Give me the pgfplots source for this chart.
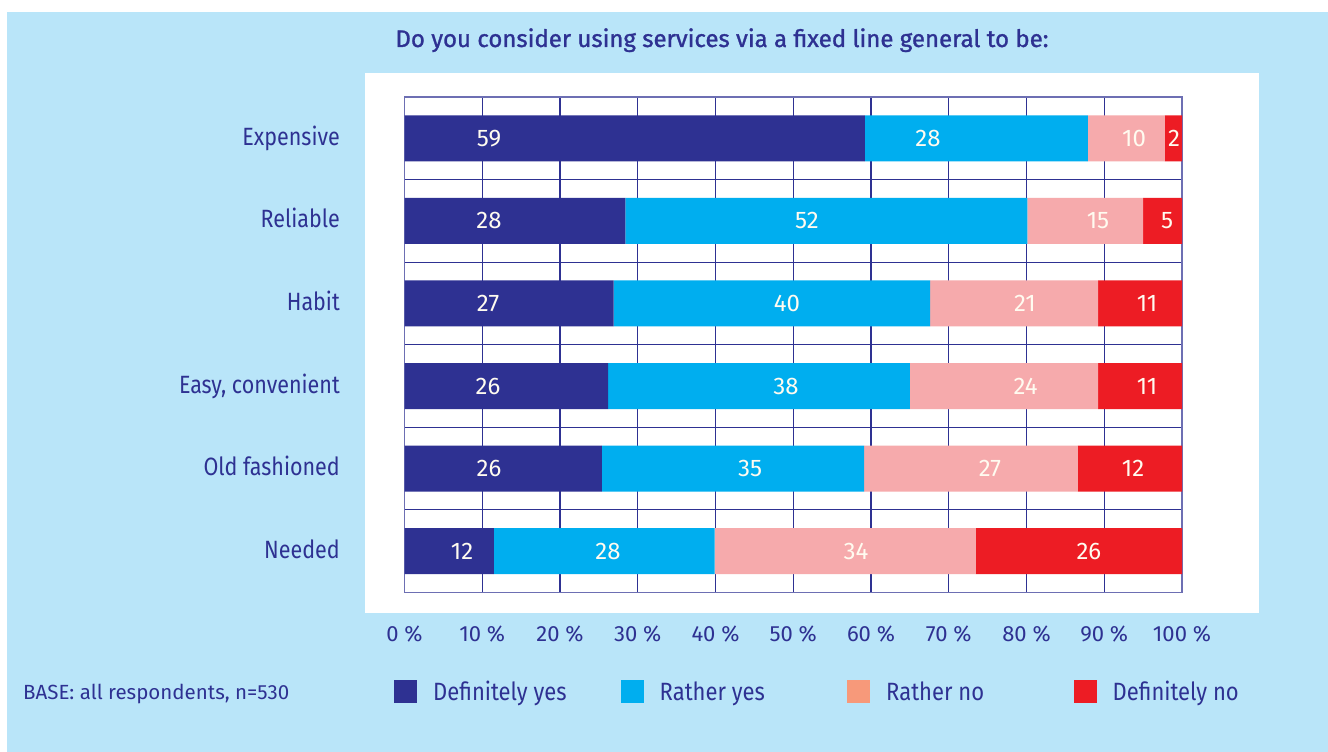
\documentclass[border=0pt]{standalone}
\usepackage{fontspec}
\usepackage{pgfplots}
\usepackage{pgfplotstable}
\pgfplotsset{compat=1.18}
\setmainfont{Fira Sans}[FakeStretch=0.86]
\newfontfamily\titlefont{Fira Sans}[FakeBold=1.2]
\newfontfamily\widefont{Fira Sans}
\newfontfamily\legfont{Fira Sans}[FakeStretch=0.88]
\definecolor{bgblue}{RGB}{185,229,249}
\definecolor{navy}{RGB}{46,49,146}
\definecolor{lblue}{RGB}{0,174,239}
\definecolor{pinkbar}{RGB}{246,170,172}
\definecolor{salmon}{RGB}{247,153,122}
\definecolor{redbar}{RGB}{237,28,36}
\definecolor{lbltext}{RGB}{255,251,240}
\pgfplotstableread{
cat dy ry rn dn
0 59.2 28.7 9.9 2.2
1 28.4 51.7 14.9 5.0
2 26.9 40.7 21.6 10.8
3 26.2 38.8 24.2 10.8
4 25.4 33.7 27.5 13.4
5 11.5 28.4 33.6 26.5
}\data
\pgfplotstableread{
cat lx t
0 10.87 59
0 67.33 28
0 93.83 10
0 98.97 2
1 10.87 28
1 51.77 52
1 89.2 15
1 98.1 5
2 10.74 27
2 49.2 40
2 79.8 21
2 95.5 11
3 10.74 26
3 49.07 38
3 79.9 24
3 95.5 11
4 10.87 26
4 44.44 35
4 75.3 27
4 93.7 12
5 7.4 12
5 26.17 28
5 58.07 34
5 88.03 26
}\labels
\pgfplotsset{frame/.style={
  at={(404.5pt,-97pt)}, anchor=north west,
  scale only axis, width=777.5pt, height=495.5pt,
  xmin=0, xmax=100, ymin=-0.5, ymax=5.5, y dir=reverse}}
\begin{document}
\begin{tikzpicture}
\fill[white] (0pt,0pt) rectangle (1328pt,-752pt);
\fill[bgblue] (7pt,-12pt) rectangle (1328pt,-752pt);
\fill[white] (365pt,-73pt) rectangle (1259pt,-613pt);
\node[anchor=base, text=navy, font=\titlefont\fontsize{24pt}{28pt}\selectfont, inner sep=0pt] at (722pt,-47pt) {Do you consider using services via a fixed line general to be:};
\node[anchor=base west, text=navy, font=\widefont\fontsize{20.5pt}{24pt}\selectfont, inner sep=0pt] at (23pt,-699pt) {BASE: all respondents, n=530};
\begin{axis}[
  frame,
  xbar stacked, bar width=46pt,
  xtick={0,10,...,100},
  xticklabels={0 \%,10 \%,20 \%,30 \%,40 \%,50 \%,60 \%,70 \%,80 \%,90 \%,100 \%},
  ytick={0,...,5},
  yticklabels={Expensive,Reliable,Habit,{Easy, convenient},Old fashioned,Needed},
  minor ytick={0.5,1.5,2.5,3.5,4.5},
  xmajorgrids, yminorgrids,
  grid style={draw=navy, line width=1.1pt},
  minor grid style={draw=navy, line width=1.1pt},
  axis line style={draw=navy!70, line width=1.1pt},
  major tick length=0pt, minor tick length=0pt,
  xticklabel style={anchor=base, yshift=-49pt, text=navy, font=\widefont\fontsize{22pt}{26pt}\selectfont, inner sep=0pt},
  yticklabel style={anchor=base east, xshift=-64.5pt, yshift=-7pt, text=navy, font=\fontsize{25pt}{28pt}\selectfont, inner sep=0pt},
  /pgf/number format/assume math mode=true,
  legend columns=4,
  legend style={at={(-0.0135,-0.1998)}, anchor=west, draw=none, fill=none, inner sep=0pt,
    nodes={inner sep=0pt, text=navy, font=\legfont\fontsize{25pt}{28pt}\selectfont},
    /tikz/every even column/.append style={column sep=0pt}},
  legend cell align=left,
]
\addplot[fill=navy, draw=none, legend image code/.code={\fill[navy] (0pt,-11.5pt) rectangle (23pt,11.5pt);}] table[x=dy,y=cat]{\data};
\addplot[fill=lblue, draw=none, legend image code/.code={\fill[lblue] (0pt,-11.5pt) rectangle (23pt,11.5pt);}] table[x=ry,y=cat]{\data};
\addplot[fill=pinkbar, draw=none, legend image code/.code={\fill[salmon] (0pt,-11.5pt) rectangle (23pt,11.5pt);}] table[x=rn,y=cat]{\data};
\addplot[fill=redbar, draw=none, legend image code/.code={\fill[redbar] (0pt,-11.5pt) rectangle (23pt,11.5pt);}] table[x=dn,y=cat]{\data};
\legend{\makebox[203.5pt][l]{\hspace*{16pt}Definitely yes},\makebox[203.5pt][l]{\hspace*{16pt}Rather yes},\makebox[203.5pt][l]{\hspace*{16pt}Rather no},\makebox[150pt][l]{\hspace*{16pt}Definitely no}}
\end{axis}
\begin{axis}[frame, hide axis, clip=false]
\addplot[draw=none, mark=none, nodes near coords, point meta=explicit symbolic,
  every node near coord/.append style={anchor=center, text=lbltext, inner sep=0pt, yshift=0pt,
    font=\widefont\fontsize{24pt}{28pt}\selectfont}]
  table[x=lx, y=cat, meta=t]{\labels};
\end{axis}
\end{tikzpicture}
\end{document}
